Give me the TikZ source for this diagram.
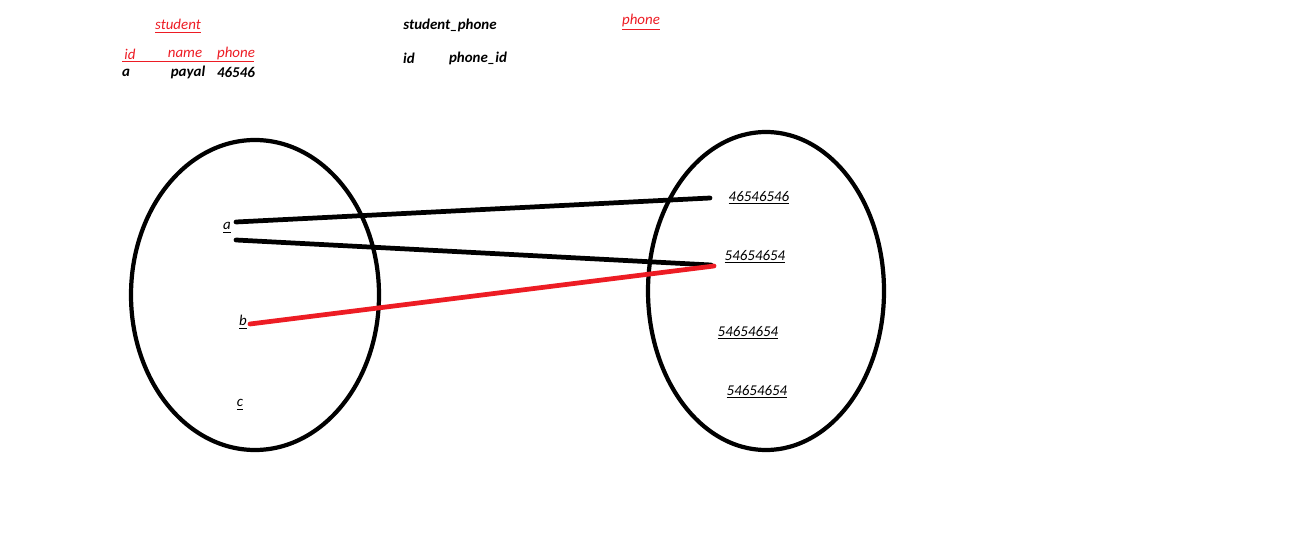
\documentclass[tikz,border=0pt]{standalone}
\usepackage{fontspec}
\setmainfont{Carlito}
\usetikzlibrary{calc}
\definecolor{pred}{RGB}{237, 28, 36}

\tikzset{
  lbl/.style={font=\fontsize{8.5}{10}\selectfont\itshape, inner sep=1pt},
  hdr/.style={font=\fontsize{8.5}{10}\selectfont\itshape\bfseries, inner sep=1pt},
  ring/.style={line width=2.4pt},
  link/.style={line width=2.7pt, line cap=round}
}

\begin{document}
\begin{tikzpicture}[x=0.02cm, y=-0.02cm]
\useasboundingbox (0,0) rectangle (1300,540);

% Table headers
\node[lbl, text=pred] (tstudent) at (178,26) {\underline{student}};
\node[hdr] (tlink) at (450,25) {student\_phone};
\node[lbl, text=pred] (tphone) at (641,22) {\underline{phone}};

% student columns
\node[lbl, text=pred] (cid) at (130,54) {id};
\node[lbl, text=pred] (cname) at (185,54) {name};
\node[lbl, text=pred] (cphone) at (236,54) {phone};
\draw[pred, line width=0.5pt] (122,61) -- (254,61);
\node[hdr] (rid) at (126,73) {a};
\node[hdr] (rname) at (188,72) {payal};
\node[hdr] (rphone) at (236,72) {46546};

% student_phone columns
\node[hdr] (lid) at (409,58) {id};
\node[hdr] (lphone) at (478,58) {phone\_id};

% The two sets
\draw[ring] (255,295) ellipse [x radius=124, y radius=155];
\draw[ring] (766,291) ellipse [x radius=118, y radius=159];

% students
\node[lbl] (sa) at (227,228) {\underline{a}};
\node[lbl] (sb) at (243,322) {\underline{b}};
\node[lbl] (sc) at (240,405) {\underline{c}};

% phones
\node[lbl] (p1) at (759,198) {\underline{46546546}};
\node[lbl] (p2) at (755,257) {\underline{54654654}};
\node[lbl] (p3) at (748,333) {\underline{54654654}};
\node[lbl] (p4) at (757,392) {\underline{54654654}};

% ends of the links
\coordinate (a1) at (236,222);
\coordinate (a2) at (236,240);
\coordinate (b1) at (250,324);
\coordinate (q1) at (710,198);
\coordinate (q2) at (711,265);
\coordinate (q3) at (714,266);

\draw[link] (a1) -- (q1);
\draw[link] (a2) -- (q2);
\draw[link, pred] (b1) -- (q3);
\end{tikzpicture}
\end{document}
